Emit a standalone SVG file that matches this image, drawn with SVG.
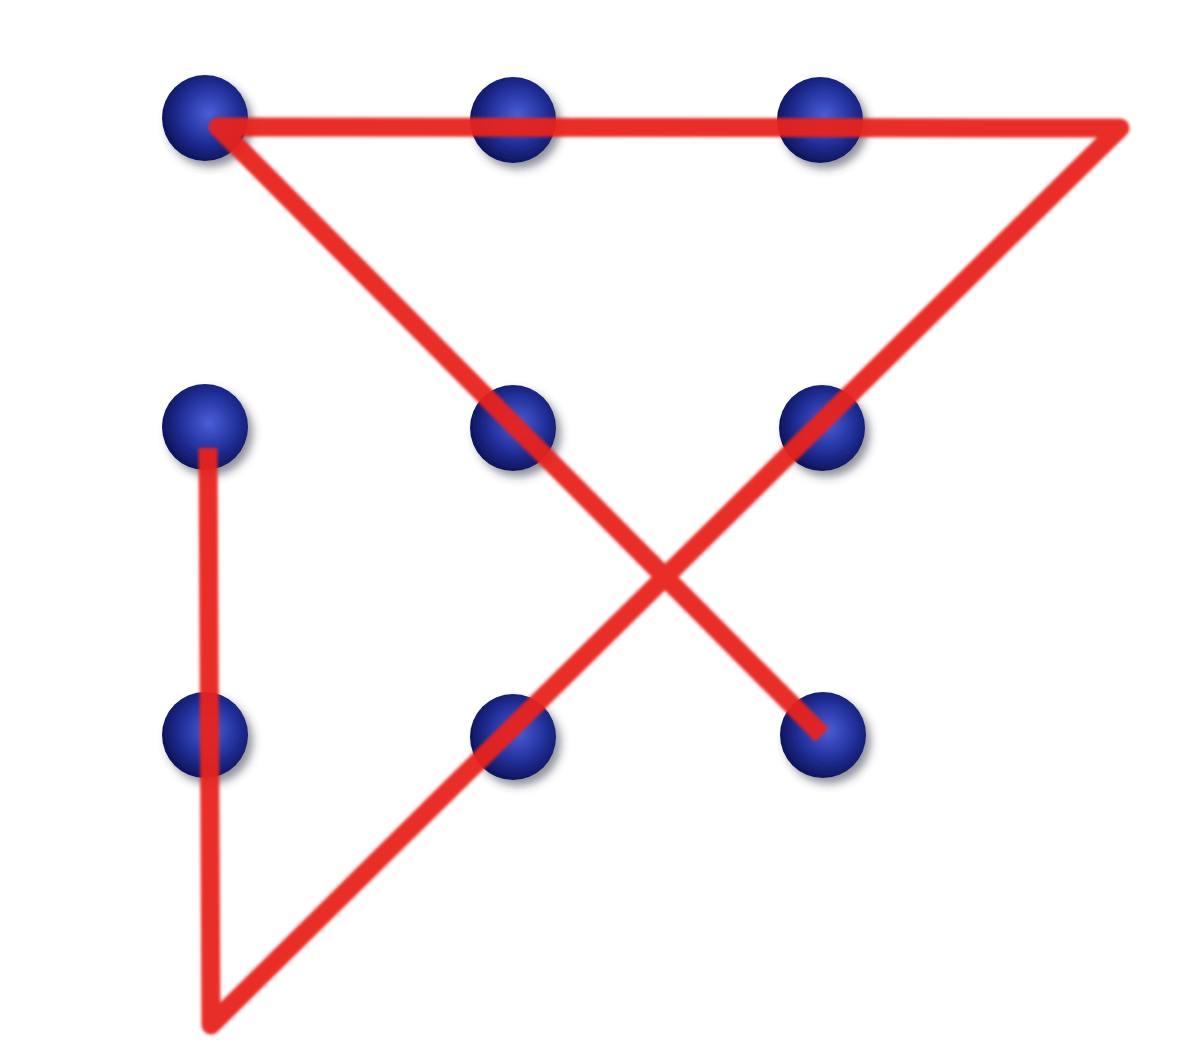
<svg xmlns="http://www.w3.org/2000/svg" width="1184" height="1050" viewBox="0 0 1184 1050">
<defs>
<radialGradient id="dotg" cx="0.55" cy="0.45" r="0.6">
<stop offset="0" stop-color="#4a5ed8"/>
<stop offset="0.55" stop-color="#22309a"/>
<stop offset="1" stop-color="#0a1050"/>
</radialGradient>
<filter id="sh" x="-30%" y="-30%" width="170%" height="170%">
<feGaussianBlur in="SourceAlpha" stdDeviation="4"/>
<feOffset dx="5" dy="6" result="b"/>
<feFlood flood-color="#3a3a50" flood-opacity="0.55"/>
<feComposite in2="b" operator="in"/>
<feMerge><feMergeNode/><feMergeNode in="SourceGraphic"/></feMerge>
</filter>
<filter id="soft"><feGaussianBlur stdDeviation="1.5"/></filter>
</defs>
<style>
.dot{fill:url(#dotg);filter:url(#sh)}
.ln{fill:none;stroke:#e8221a;stroke-width:19;stroke-linejoin:round;stroke-linecap:butt;opacity:0.95}
</style>
<rect width="1184" height="1050" fill="#ffffff"/>
<g id="dot-1-1"><circle class="dot" cx="205" cy="118" r="43"/></g>
<g id="dot-1-2"><circle class="dot" cx="513" cy="120" r="43"/></g>
<g id="dot-1-3"><circle class="dot" cx="820" cy="120" r="43"/></g>
<g id="dot-2-1"><circle class="dot" cx="205" cy="427" r="43"/></g>
<g id="dot-2-2"><circle class="dot" cx="513" cy="428" r="43"/></g>
<g id="dot-2-3"><circle class="dot" cx="822" cy="428" r="43"/></g>
<g id="dot-3-1"><circle class="dot" cx="205" cy="735" r="43"/></g>
<g id="dot-3-2"><circle class="dot" cx="513" cy="737" r="43"/></g>
<g id="dot-3-3"><circle class="dot" cx="823" cy="735" r="43"/></g>
<g id="connectors" filter="url(#soft)">
<path class="ln" d="M208,448 L211,1025 L1120,128 L218,127 L822,735"/>
</g>
</svg>
